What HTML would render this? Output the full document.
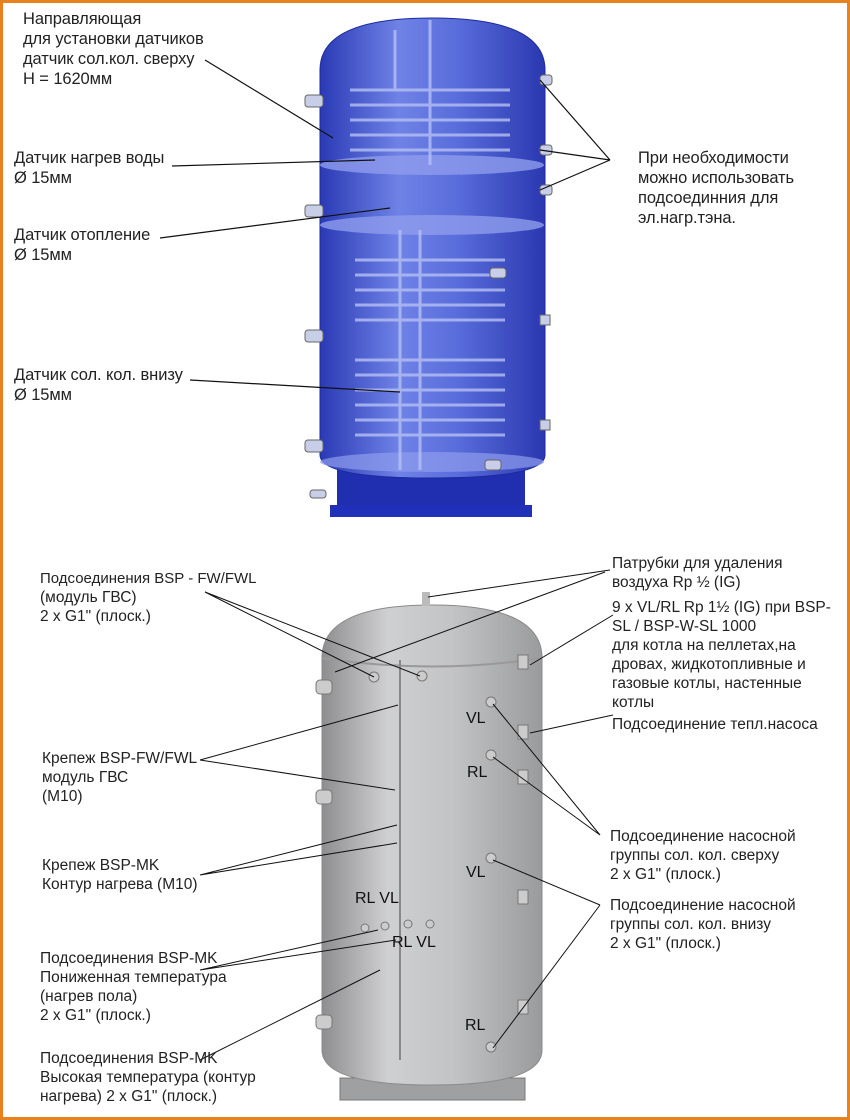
<!DOCTYPE html>
<html><head><meta charset="utf-8"><style>
body{margin:0;background:#fff}
svg{display:block}
text{font-family:"Liberation Sans",sans-serif;font-size:15.5px;fill:#222}
.t{font-size:16.5px;letter-spacing:-.1px}
.b{font-size:16px;fill:#111}
</style></head><body>
<svg width="850" height="1120" viewBox="0 0 850 1120" xmlns="http://www.w3.org/2000/svg">
<defs>
<linearGradient id="bl" x1="0" x2="1">
<stop offset="0" stop-color="#2a3ab5"/><stop offset=".35" stop-color="#6f82e6"/><stop offset=".6" stop-color="#5a6edc"/><stop offset="1" stop-color="#2a38b0"/></linearGradient>
<linearGradient id="gr" x1="0" x2="1">
<stop offset="0" stop-color="#8e8e90"/><stop offset=".3" stop-color="#cfd0d2"/><stop offset=".6" stop-color="#c2c3c5"/><stop offset="1" stop-color="#9a9b9d"/></linearGradient>
</defs>
<rect x="1.5" y="1.5" width="847" height="1117" fill="#fff" stroke="#e8821e" stroke-width="3"/>

<!-- blue tank -->
<rect x="337" y="470" width="188" height="45" fill="#1f2fb0"/>
<rect x="330" y="505" width="202" height="12" fill="#2030b8"/>
<path d="M320 70 Q320 18 432 18 Q545 18 545 70 L545 455 Q545 478 432 478 Q320 478 320 455 Z" fill="url(#bl)" stroke="#1c2a9a"/>
<ellipse cx="432" cy="165" rx="112" ry="10" fill="#8e9cec" opacity=".8"/>
<ellipse cx="432" cy="225" rx="112" ry="10" fill="#8e9cec" opacity=".8"/>
<ellipse cx="432" cy="462" rx="112" ry="10" fill="#8e9cec" opacity=".7"/>
<g stroke="#b6c0f4" stroke-width="3" fill="none" opacity=".8">
<path d="M350 90 H510 M350 105 H510 M350 120 H510 M350 135 H510 M350 150 H510"/>
<path d="M355 260 H505 M355 275 H505 M355 290 H505 M355 305 H505 M355 320 H505 M355 360 H505 M355 375 H505 M355 390 H505 M355 405 H505 M355 420 H505 M355 435 H505"/>
<path d="M400 230 V470 M420 230 V470 M430 20 V165 M395 30 V90"/>
</g>
<g fill="#c8cde8" stroke="#666">
<rect x="305" y="95" width="18" height="12" rx="3"/><rect x="305" y="205" width="18" height="12" rx="3"/><rect x="305" y="330" width="18" height="12" rx="3"/><rect x="305" y="440" width="18" height="12" rx="3"/>
<rect x="540" y="75" width="12" height="10" rx="3"/><rect x="540" y="145" width="12" height="10" rx="3"/><rect x="540" y="185" width="12" height="10" rx="3"/><rect x="540" y="315" width="10" height="10"/><rect x="540" y="420" width="10" height="10"/>
<rect x="490" y="268" width="16" height="10" rx="3"/><rect x="485" y="460" width="16" height="10" rx="3"/><rect x="310" y="490" width="16" height="8" rx="3"/>
</g>
<g stroke="#111" stroke-width="1.2" fill="none">
<path d="M205 60 L333 138"/><path d="M172 166 L375 160"/><path d="M160 238 L390 208"/><path d="M190 380 L400 392"/>
<path d="M610 160 L540 80 M610 160 L540 150 M610 160 L540 190"/>
</g>
<text class="t" x="23" y="24">Направляющая</text>
<text class="t" x="23" y="44">для установки датчиков</text>
<text class="t" x="23" y="64">датчик сол.кол. сверху</text>
<text class="t" x="23" y="84">H = 1620мм</text>
<text class="t" x="14" y="163">Датчик нагрев воды</text>
<text class="t" x="14" y="183">Ø 15мм</text>
<text class="t" x="14" y="240">Датчик отопление</text>
<text class="t" x="14" y="260">Ø 15мм</text>
<text class="t" x="14" y="380">Датчик сол. кол. внизу</text>
<text class="t" x="14" y="400">Ø 15мм</text>
<text class="t" x="638" y="163">При необходимости</text>
<text class="t" x="638" y="183">можно использовать</text>
<text class="t" x="638" y="203">подсоединния для</text>
<text class="t" x="638" y="223">эл.нагр.тэна.</text>

<!-- grey tank -->
<rect x="340" y="1078" width="185" height="22" fill="#9fa0a2" stroke="#777"/>
<path d="M322 658 Q322 605 432 605 Q542 605 542 658 L542 1050 Q542 1085 432 1085 Q322 1085 322 1050 Z" fill="url(#gr)" stroke="#8a8a8a"/>
<path d="M322 658 Q432 675 542 658" fill="none" stroke="#999" stroke-width="2"/>
<rect x="422" y="592" width="8" height="14" fill="#bbb"/>
<path d="M400 660 V1060" stroke="#888" stroke-width="2"/>
<g fill="#ccc" stroke="#777">
<rect x="316" y="680" width="16" height="14" rx="4"/><rect x="316" y="790" width="16" height="14" rx="4"/><rect x="316" y="1015" width="16" height="14" rx="4"/>
<rect x="518" y="655" width="10" height="14"/><rect x="518" y="725" width="10" height="14"/><rect x="518" y="770" width="10" height="14"/><rect x="518" y="890" width="10" height="14"/><rect x="518" y="1000" width="10" height="14"/>
<circle cx="374" cy="677" r="5"/><circle cx="422" cy="676" r="5"/><circle cx="491" cy="702" r="5"/><circle cx="491" cy="755" r="5"/><circle cx="491" cy="858" r="5"/><circle cx="491" cy="1047" r="5"/>
<circle cx="365" cy="928" r="4"/><circle cx="385" cy="926" r="4"/><circle cx="408" cy="924" r="4"/><circle cx="430" cy="924" r="4"/>
</g>
<text class="b" x="466" y="723">VL</text><text class="b" x="467" y="777">RL</text><text class="b" x="466" y="877">VL</text>
<text class="b" x="355" y="903">RL VL</text><text class="b" x="392" y="947">RL VL</text><text class="b" x="465" y="1030">RL</text>
<g stroke="#111" stroke-width="1" fill="none">
<path d="M205 592 L374 677 M205 592 L420 676 M335 672 L605 572"/>
<path d="M428 597 L610 570"/>
<path d="M613 615 L530 665 M613 715 L530 733"/>
<path d="M200 760 L398 705 M200 760 L395 790"/>
<path d="M200 875 L397 825 M200 875 L397 843"/>
<path d="M200 970 L378 930 M200 970 L396 940 M200 1060 L380 970"/>
<path d="M600 835 L493 704 M600 835 L493 757"/>
<path d="M600 905 L493 860 M600 905 L493 1048"/>
</g>
<text x="40" y="583" style="font-size:15px">Подсоединения BSP - FW/FWL</text>
<text x="40" y="602">(модуль ГВС)</text>
<text x="40" y="621">2 x G1" (плоск.)</text>
<text x="612" y="568">Патрубки для удаления</text>
<text x="612" y="587">воздуха Rp ½ (IG)</text>
<text x="612" y="612">9 x VL/RL  Rp 1½ (IG) при BSP-</text>
<text x="612" y="631">SL / BSP-W-SL 1000</text>
<text x="612" y="650">для котла на пеллетах,на</text>
<text x="612" y="669">дровах, жидкотопливные и</text>
<text x="612" y="688">газовые котлы, настенные</text>
<text x="612" y="707">котлы</text>
<text x="612" y="729">Подсоединение тепл.насоса</text>
<text x="42" y="763">Крепеж BSP-FW/FWL</text>
<text x="42" y="782">модуль ГВС</text>
<text x="42" y="801">(M10)</text>
<text x="42" y="870">Крепеж BSP-MK</text>
<text x="42" y="889">Контур нагрева (M10)</text>
<text x="40" y="963">Подсоединения BSP-MK</text>
<text x="40" y="982">Пониженная температура</text>
<text x="40" y="1001">(нагрев пола)</text>
<text x="40" y="1020">2 x G1" (плоск.)</text>
<text x="40" y="1063">Подсоединения BSP-MK</text>
<text x="40" y="1082">Высокая температура (контур</text>
<text x="40" y="1101">нагрева)  2 x G1" (плоск.)</text>
<text x="610" y="841">Подсоединение насосной</text>
<text x="610" y="860">группы сол. кол. сверху</text>
<text x="610" y="879">2 x G1" (плоск.)</text>
<text x="610" y="910">Подсоединение насосной</text>
<text x="610" y="929">группы сол. кол. внизу</text>
<text x="610" y="948">2 x G1" (плоск.)</text>
</svg>
</body></html>
